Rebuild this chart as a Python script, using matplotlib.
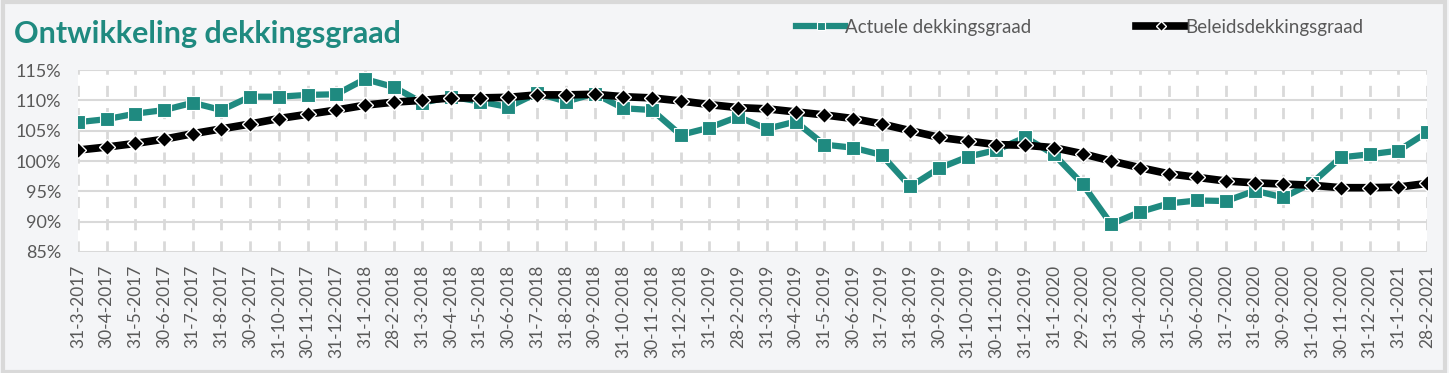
"""Ontwikkeling dekkingsgraad: actuele vs beleidsdekkingsgraad."""

import matplotlib

matplotlib.use("Agg")

import matplotlib.pyplot as plt
import pandas as pd

DATES = pd.date_range("2017-03-31", "2021-02-28", freq="ME")
LABELS = [f"{d.day}-{d.month}-{d.year}" for d in DATES]

ACTUELE = [
    106.4, 106.9, 107.8, 108.4, 109.6, 108.4, 110.6, 110.6, 110.9, 111.0,
    113.5, 112.2, 109.6, 110.6, 109.8, 108.9, 111.2, 109.8, 111.1, 108.7,
    108.4, 104.3, 105.5, 107.3, 105.3, 106.5, 102.7, 102.2, 101.0, 95.8,
    98.8, 100.7, 101.8, 103.9, 101.1, 96.2, 89.6, 91.6, 93.0, 93.5,
    93.4, 95.1, 94.0, 96.4, 100.6, 101.1, 101.7, 104.7,
]
BELEIDS = [
    101.8, 102.3, 102.9, 103.6, 104.5, 105.3, 106.1, 107.0, 107.7, 108.4,
    109.2, 109.7, 110.0, 110.4, 110.4, 110.5, 110.9, 110.9, 111.0, 110.6,
    110.4, 109.9, 109.3, 108.8, 108.6, 108.1, 107.6, 107.0, 106.1, 105.0,
    103.9, 103.3, 102.7, 102.6, 102.2, 101.2, 100.0, 98.9, 97.9, 97.3,
    96.7, 96.4, 96.2, 96.0, 95.6, 95.6, 95.7, 96.3,
]
Y_TICKS = [85, 90, 95, 100, 105, 110, 115]

TEAL = "#1f8a80"
GREY_TEXT = "#595959"
GRID = "#d9d9d9"
BG = "#f4f5f7"

plt.rcParams["font.family"] = ["Lato", "DejaVu Sans"]

fig = plt.figure(figsize=(14.49, 3.73), dpi=100, facecolor=BG)
ax = fig.add_axes([0.0538, 0.3244, 0.9310, 0.4879])
ax.set_facecolor("white")

x = list(range(len(LABELS)))
ax.plot(x, ACTUELE, color=TEAL, linewidth=4.5, marker="s", markersize=10,
        markerfacecolor=TEAL, markeredgecolor="white", markeredgewidth=0.8,
        label="Actuele dekkingsgraad", zorder=3)
ax.plot(x, BELEIDS, color="black", linewidth=5.5, marker="D", markersize=8,
        markerfacecolor="black", markeredgecolor="white", markeredgewidth=1.0,
        label="Beleidsdekkingsgraad", zorder=4)

ax.set_xlim(0, len(LABELS) - 1)
ax.set_ylim(85, 115)
ax.set_yticks(Y_TICKS)
ax.set_yticklabels([f"{v}%" for v in Y_TICKS])
ax.set_xticks(x)
ax.set_xticklabels(LABELS, rotation=90)
ax.tick_params(axis="both", length=0, colors=GREY_TEXT)
ax.tick_params(axis="x", pad=9, labelsize=12.5)
ax.tick_params(axis="y", pad=12, labelsize=13)

for v in Y_TICKS:
    ax.axhline(v, color=GRID, linewidth=1.5, zorder=1)
for xi in x:
    ax.axvline(xi, color=GRID, linewidth=2, linestyle=(0, (4, 4)), zorder=1)
for spine in ax.spines.values():
    spine.set_visible(False)

fig.text(0.010, 0.908, "Ontwikkeling dekkingsgraad", color=TEAL,
         fontsize=22, fontweight="bold", va="center", ha="left")

fig.legend(loc="center left", bbox_to_anchor=(0.538, 0.927), ncol=2,
           frameon=False, handlelength=2.6, handletextpad=0.0,
           columnspacing=5.6, fontsize=13.5, labelcolor=GREY_TEXT,
           markerscale=0.6)

border = plt.Rectangle((0.002, 0.004), 0.995, 0.99, transform=fig.transFigure,
                       fill=False, edgecolor=GRID, linewidth=3)
fig.add_artist(border)

fig.savefig("out.png", dpi=100, facecolor=BG)
plt.close(fig)
